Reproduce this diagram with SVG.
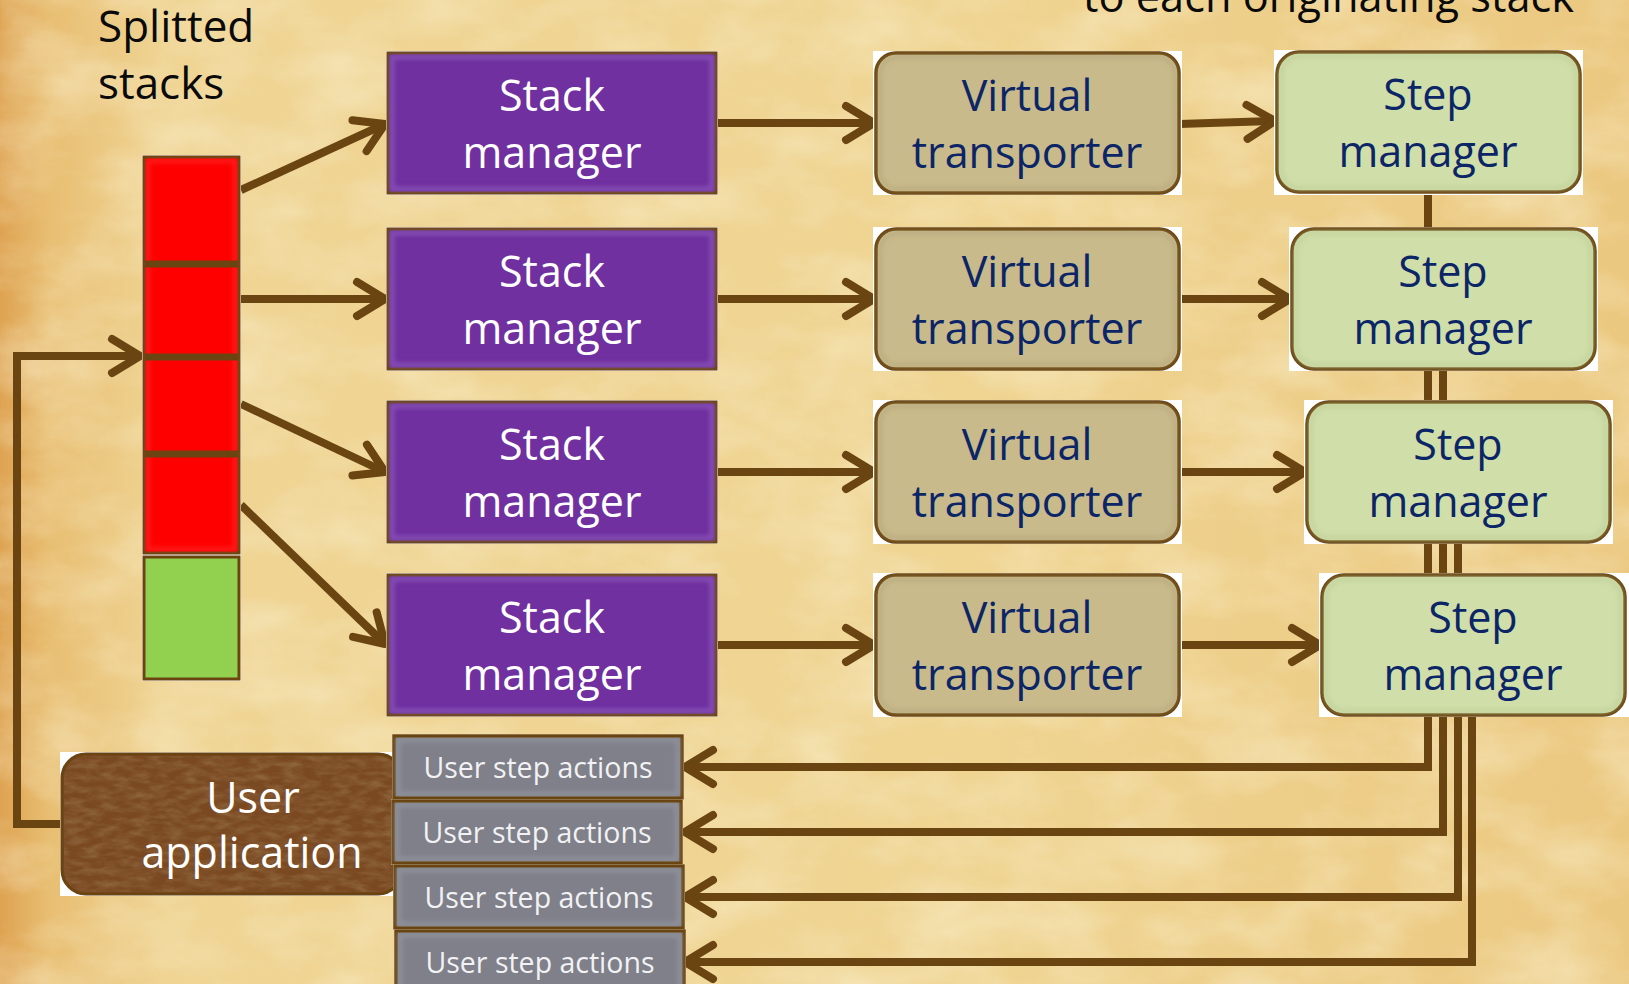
<svg xmlns="http://www.w3.org/2000/svg" width="1629" height="984" viewBox="0 0 1629 984">
  <defs>
    <linearGradient id="paper" x1="0" y1="0" x2="1" y2="0">
      <stop offset="0" stop-color="#DEA352"/>
      <stop offset="0.03" stop-color="#E8BE72"/>
      <stop offset="0.1" stop-color="#EFD494"/>
      <stop offset="0.6" stop-color="#EFD492"/>
      <stop offset="1" stop-color="#EBC880"/>
    </linearGradient>
    <filter id="grain" x="0" y="0" width="100%" height="100%">
      <feTurbulence type="fractalNoise" baseFrequency="0.01 0.018" numOctaves="5" seed="3" result="n"/>
      <feColorMatrix in="n" type="matrix" values="0 0 0 0 0.98  0 0 0 0 0.93  0 0 0 0 0.72  0.8 0 0 0 -0.3"/>
    </filter>
    <filter id="leather" x="0" y="0" width="100%" height="100%">
      <feTurbulence type="fractalNoise" baseFrequency="0.06 0.16" numOctaves="3" seed="7" result="n"/>
      <feColorMatrix in="n" type="matrix" values="0 0 0 0 0.30  0 0 0 0 0.16  0 0 0 0 0.06  -1.4 0 0 0 0.9" result="d"/>
      <feComposite in="d" in2="SourceGraphic" operator="in"/>
    </filter>
    <filter id="soft" x="-5%" y="-5%" width="110%" height="110%">
      <feGaussianBlur stdDeviation="2"/>
    </filter>
    <marker id="arr" markerUnits="userSpaceOnUse" markerWidth="60" markerHeight="60" viewBox="-40 -30 60 60" refX="0" refY="0" orient="auto" overflow="visible">
      <path d="M-28,-17 L0,0 L-28,17" fill="none" stroke="#6A4511" stroke-width="8" stroke-linecap="round" stroke-linejoin="round"/>
    </marker>
    <style>
      .wire { fill: none; stroke: #6A4511; stroke-width: 8; stroke-linejoin: miter; }
      .arrow { marker-end: url(#arr); }
      .halo { fill: #FFFFFF; }
      .purple { fill: #7030A0; stroke: #6A4511; stroke-width: 3; }
      .glow-p { fill: none; stroke: #9666C4; stroke-width: 5; opacity: 0.55; }
      .khaki { fill: #C8BA8B; stroke: #6A4511; stroke-width: 3.5; }
      .glow-k { fill: none; stroke: #B3A478; stroke-width: 5; opacity: 0.5; }
      .pale { fill: #D0DEA9; stroke: #6A4511; stroke-width: 3.5; }
      .glow-g { fill: none; stroke: #BFCF98; stroke-width: 5; opacity: 0.6; }
      .grey { fill: #7F808A; stroke: #6A4511; stroke-width: 3.5; }
      .glow-s { fill: none; stroke: #9A9BA4; stroke-width: 5; opacity: 0.6; }
      .lbl { font-family: "Open Sans", "Liberation Sans", sans-serif; font-size: 43px; text-anchor: middle; }
      .white { fill: #FFFFFF; }
      .navy { fill: #0B2566; }
      .small { font-family: "Open Sans", "Liberation Sans", sans-serif; font-size: 28.5px; text-anchor: middle; fill: #F2F2F4; }
      .caption { font-family: "Open Sans", "Liberation Sans", sans-serif; font-size: 44px; fill: #0A0A0A; }
    </style>
  </defs>

  <!-- parchment background -->
  <rect width="1629" height="984" fill="url(#paper)"/>
  <rect width="1629" height="984" fill="#FFFFFF" filter="url(#grain)"/>

  <!-- captions -->
  <g id="caption-splitted">
    <text class="caption" x="98" y="42">Splitted</text>
    <text class="caption" x="98" y="99">stacks</text>
  </g>
  <g id="caption-return">
    <text class="caption" x="1083" y="12" textLength="491" lengthAdjust="spacingAndGlyphs">to each originating stack</text>
  </g>

  <!-- connectors -->
  <g id="connectors">
    <!-- stack slices to stack managers -->
    <line class="wire arrow" x1="241" y1="190" x2="385" y2="124"/>
    <line class="wire arrow" x1="241" y1="299" x2="385" y2="299"/>
    <line class="wire arrow" x1="241" y1="404" x2="385" y2="472"/>
    <line class="wire arrow" x1="241" y1="505" x2="385" y2="644"/>
    <!-- stack managers to virtual transporters -->
    <line class="wire arrow" x1="716" y1="123" x2="874" y2="123"/>
    <line class="wire arrow" x1="716" y1="299" x2="874" y2="299"/>
    <line class="wire arrow" x1="716" y1="472" x2="874" y2="472"/>
    <line class="wire arrow" x1="716" y1="645" x2="874" y2="645"/>
    <!-- virtual transporters to step managers -->
    <line class="wire arrow" x1="1179" y1="124" x2="1275" y2="121"/>
    <line class="wire arrow" x1="1179" y1="299" x2="1290" y2="299"/>
    <line class="wire arrow" x1="1179" y1="472" x2="1305" y2="472"/>
    <line class="wire arrow" x1="1179" y1="645" x2="1320" y2="645"/>
    <!-- step managers back to user step actions -->
    <path class="wire arrow" d="M1428,190 V767 H685"/>
    <path class="wire arrow" d="M1443,366 V832 H685"/>
    <path class="wire arrow" d="M1458,540 V897 H685"/>
    <path class="wire arrow" d="M1472,712 V962 H685"/>
    <!-- user application feeds the stack -->
    <path class="wire arrow" d="M64,824 H17 V356 H140"/>
  </g>

  <!-- splitted stack column -->
  <g id="stack">
    <rect class="halo" x="142" y="155" width="99" height="400"/>
    <rect x="144" y="157" width="95" height="396" fill="#FF0000" stroke="#6A4511" stroke-width="3"/>
    <rect x="148" y="161" width="87" height="388" fill="none" stroke="#FF3B3B" stroke-width="4" opacity="0.5" filter="url(#soft)"/>
    <line x1="145" y1="264" x2="238" y2="264" stroke="#6A4511" stroke-width="7"/>
    <line x1="145" y1="357" x2="238" y2="357" stroke="#6A4511" stroke-width="7"/>
    <line x1="145" y1="454" x2="238" y2="454" stroke="#6A4511" stroke-width="7"/>
    <rect class="halo" x="142" y="555" width="99" height="126"/>
    <rect x="144" y="557" width="95" height="122" fill="#92D050" stroke="#6A4511" stroke-width="3"/>
  </g>

  <!-- stack managers -->
  <g id="stack-manager-1">
    <rect class="halo" x="386" y="51" width="332" height="144"/>
    <rect class="purple" x="388" y="53" width="328" height="140"/>
    <rect class="glow-p" x="392" y="57" width="320" height="132" filter="url(#soft)"/>
    <text class="lbl white" x="552" y="111">Stack</text>
    <text class="lbl white" x="552" y="168">manager</text>
  </g>
  <g id="stack-manager-2">
    <rect class="halo" x="386" y="227" width="332" height="144"/>
    <rect class="purple" x="388" y="229" width="328" height="140"/>
    <rect class="glow-p" x="392" y="233" width="320" height="132" filter="url(#soft)"/>
    <text class="lbl white" x="552" y="287">Stack</text>
    <text class="lbl white" x="552" y="344">manager</text>
  </g>
  <g id="stack-manager-3">
    <rect class="halo" x="386" y="400" width="332" height="144"/>
    <rect class="purple" x="388" y="402" width="328" height="140"/>
    <rect class="glow-p" x="392" y="406" width="320" height="132" filter="url(#soft)"/>
    <text class="lbl white" x="552" y="460">Stack</text>
    <text class="lbl white" x="552" y="517">manager</text>
  </g>
  <g id="stack-manager-4">
    <rect class="halo" x="386" y="573" width="332" height="144"/>
    <rect class="purple" x="388" y="575" width="328" height="140"/>
    <rect class="glow-p" x="392" y="579" width="320" height="132" filter="url(#soft)"/>
    <text class="lbl white" x="552" y="633">Stack</text>
    <text class="lbl white" x="552" y="690">manager</text>
  </g>

  <!-- virtual transporters -->
  <g id="virtual-transporter-1">
    <rect class="halo" x="873" y="51" width="309" height="144"/>
    <rect class="khaki" x="876" y="53" width="303" height="140" rx="20"/>
    <rect class="glow-k" x="880" y="57" width="295" height="132" rx="17" filter="url(#soft)"/>
    <text class="lbl navy" x="1027" y="111">Virtual</text>
    <text class="lbl navy" x="1027" y="168">transporter</text>
  </g>
  <g id="virtual-transporter-2">
    <rect class="halo" x="873" y="227" width="309" height="144"/>
    <rect class="khaki" x="876" y="229" width="303" height="140" rx="20"/>
    <rect class="glow-k" x="880" y="233" width="295" height="132" rx="17" filter="url(#soft)"/>
    <text class="lbl navy" x="1027" y="287">Virtual</text>
    <text class="lbl navy" x="1027" y="344">transporter</text>
  </g>
  <g id="virtual-transporter-3">
    <rect class="halo" x="873" y="400" width="309" height="144"/>
    <rect class="khaki" x="876" y="402" width="303" height="140" rx="20"/>
    <rect class="glow-k" x="880" y="406" width="295" height="132" rx="17" filter="url(#soft)"/>
    <text class="lbl navy" x="1027" y="460">Virtual</text>
    <text class="lbl navy" x="1027" y="517">transporter</text>
  </g>
  <g id="virtual-transporter-4">
    <rect class="halo" x="873" y="573" width="309" height="144"/>
    <rect class="khaki" x="876" y="575" width="303" height="140" rx="20"/>
    <rect class="glow-k" x="880" y="579" width="295" height="132" rx="17" filter="url(#soft)"/>
    <text class="lbl navy" x="1027" y="633">Virtual</text>
    <text class="lbl navy" x="1027" y="690">transporter</text>
  </g>

  <!-- step managers -->
  <g id="step-manager-1">
    <rect class="halo" x="1274" y="50" width="309" height="145"/>
    <rect class="pale" x="1277" y="52" width="303" height="140" rx="22"/>
    <rect class="glow-g" x="1281" y="56" width="295" height="132" rx="19" filter="url(#soft)"/>
    <text class="lbl navy" x="1428" y="110">Step</text>
    <text class="lbl navy" x="1428" y="167">manager</text>
  </g>
  <g id="step-manager-2">
    <rect class="halo" x="1289" y="227" width="309" height="144"/>
    <rect class="pale" x="1292" y="229" width="303" height="140" rx="22"/>
    <rect class="glow-g" x="1296" y="233" width="295" height="132" rx="19" filter="url(#soft)"/>
    <text class="lbl navy" x="1443" y="287">Step</text>
    <text class="lbl navy" x="1443" y="344">manager</text>
  </g>
  <g id="step-manager-3">
    <rect class="halo" x="1304" y="400" width="309" height="144"/>
    <rect class="pale" x="1307" y="402" width="303" height="140" rx="22"/>
    <rect class="glow-g" x="1311" y="406" width="295" height="132" rx="19" filter="url(#soft)"/>
    <text class="lbl navy" x="1458" y="460">Step</text>
    <text class="lbl navy" x="1458" y="517">manager</text>
  </g>
  <g id="step-manager-4">
    <rect class="halo" x="1319" y="573" width="310" height="144"/>
    <rect class="pale" x="1322" y="575" width="303" height="140" rx="22"/>
    <rect class="glow-g" x="1326" y="579" width="295" height="132" rx="19" filter="url(#soft)"/>
    <text class="lbl navy" x="1473" y="633">Step</text>
    <text class="lbl navy" x="1473" y="690">manager</text>
  </g>

  <!-- user application -->
  <g id="user-application">
    <rect class="halo" x="60" y="752" width="345" height="144"/>
    <rect x="62" y="754" width="340" height="140" rx="24" fill="#7A4922" stroke="#6A4511" stroke-width="3"/>
    <rect x="64" y="756" width="336" height="136" rx="22" fill="#FFFFFF" filter="url(#leather)"/>
    <text class="lbl white" x="253" y="813">User</text>
    <text class="lbl white" x="252" y="868">application</text>
  </g>

  <!-- user step actions -->
  <g id="user-step-actions-1">
    <rect class="halo" x="392" y="734" width="292" height="66"/>
    <rect class="grey" x="394" y="736" width="288" height="62"/>
    <rect class="glow-s" x="398" y="740" width="280" height="54" filter="url(#soft)"/>
    <text class="small" x="538" y="778">User step actions</text>
  </g>
  <g id="user-step-actions-2">
    <rect class="halo" x="391" y="799" width="292" height="66"/>
    <rect class="grey" x="393" y="801" width="288" height="62"/>
    <rect class="glow-s" x="397" y="805" width="280" height="54" filter="url(#soft)"/>
    <text class="small" x="537" y="843">User step actions</text>
  </g>
  <g id="user-step-actions-3">
    <rect class="halo" x="393" y="864" width="292" height="66"/>
    <rect class="grey" x="395" y="866" width="288" height="62"/>
    <rect class="glow-s" x="399" y="870" width="280" height="54" filter="url(#soft)"/>
    <text class="small" x="539" y="908">User step actions</text>
  </g>
  <g id="user-step-actions-4">
    <rect class="halo" x="394" y="929" width="292" height="66"/>
    <rect class="grey" x="396" y="931" width="288" height="62"/>
    <rect class="glow-s" x="400" y="935" width="280" height="54" filter="url(#soft)"/>
    <text class="small" x="540" y="973">User step actions</text>
  </g>
</svg>
